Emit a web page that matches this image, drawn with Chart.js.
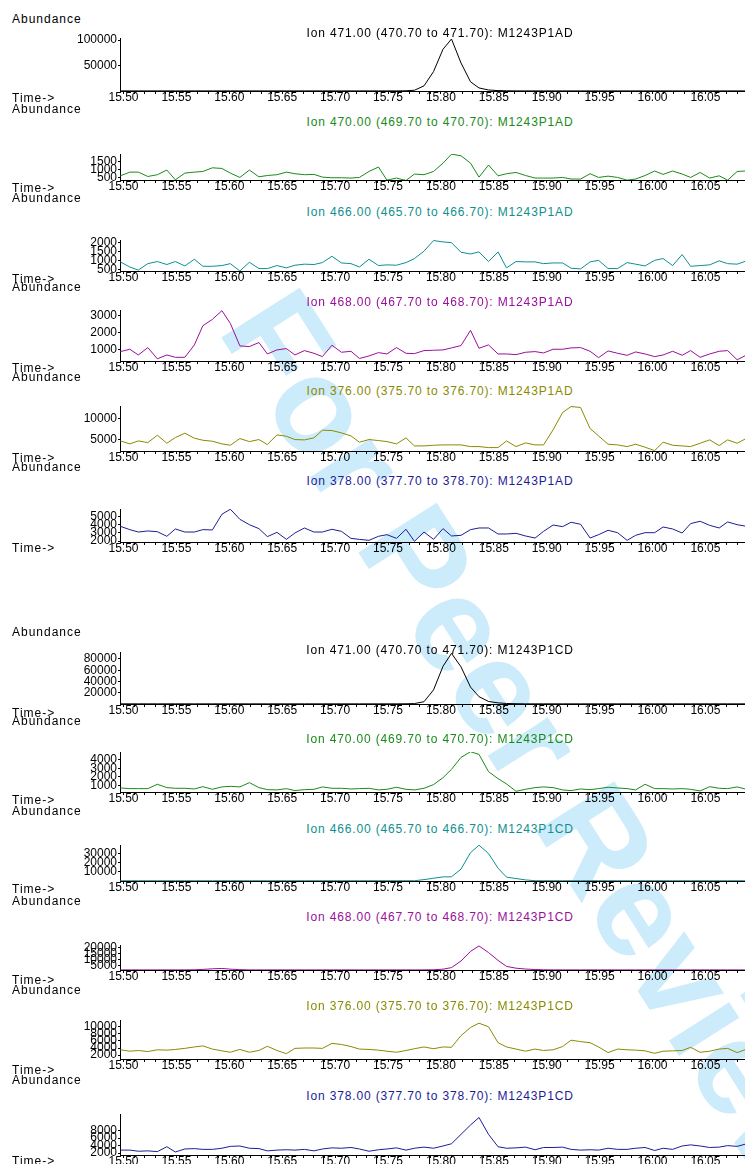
<!DOCTYPE html>
<html>
<head>
<meta charset="utf-8">
<script src="https://cdn.jsdelivr.net/npm/chart.js@4.4.0/dist/chart.umd.min.js"></script>
<style>
html, body { margin: 0; padding: 0; background: #fff; overflow: hidden; }
#page { position: relative; width: 745px; height: 1164px; overflow: hidden; font-family: "Liberation Sans", Arial, sans-serif; }
.side { position: absolute; left: 12px; font-size: 12px; letter-spacing: 1px; line-height: 14px; color: #000; white-space: nowrap; z-index: 2; }
.title { position: absolute; left: 440px; transform: translateX(-50%); font-size: 12px; letter-spacing: 0.85px; line-height: 14px; white-space: nowrap; z-index: 2; }
.wm { position: absolute; left: 538px; top: 748px; transform: translate(-50%, -50%) rotate(57.5deg); font: bold 135px "Liberation Sans", Arial, sans-serif; color: #cdecfb; white-space: nowrap; z-index: 0; }
canvas { position: absolute; left: 0; z-index: 1; }
</style>
</head>
<body>
<div id="page"><div class="wm">For Peer Review</div></div>
<script>
// scan times (min), shared by every ion trace
const times = [
    15.497, 15.506, 15.514, 15.523, 15.532, 15.541, 15.549, 15.558, 15.567, 15.575,
    15.584, 15.593, 15.601, 15.610, 15.619, 15.628, 15.636, 15.645, 15.654, 15.662,
    15.671, 15.680, 15.688, 15.697, 15.706, 15.715, 15.723, 15.732, 15.741, 15.749,
    15.758, 15.767, 15.775, 15.784, 15.793, 15.802, 15.810, 15.819, 15.828, 15.836,
    15.845, 15.854, 15.862, 15.871, 15.880, 15.889, 15.897, 15.906, 15.915, 15.923,
    15.932, 15.941, 15.949, 15.958, 15.967, 15.976, 15.984, 15.993, 16.002, 16.010,
    16.019, 16.028, 16.036, 16.045, 16.054, 16.063, 16.071, 16.080, 16.089
];

const xTickLabels = ['15.50', '15.55', '15.60', '15.65', '15.70', '15.75', '15.80', '15.85', '15.90', '15.95', '16.00', '16.05'];

// sample M1243P1AD
const ion471AD = [
    200, 200, 200, 200, 200, 200, 200, 200, 200, 200,
    200, 200, 200, 200, 200, 200, 200, 200, 200, 200,
    200, 200, 200, 200, 200, 200, 200, 200, 200, 200,
    200, 400, 1500, 10000, 38000, 82000, 102000, 55000, 18000, 6000,
    2000, 800, 400, 200, 200, 200, 200, 200, 200, 200,
    200, 200, 200, 200, 200, 200, 200, 200, 200, 200,
    200, 200, 200, 200, 200, 200, 200, 200, 200
];
const ion470AD = [
    600, 830, 830, 560, 670, 960, 350, 770, 830, 870,
    1100, 1060, 770, 500, 960, 540, 620, 670, 830, 730,
    670, 690, 520, 480, 480, 460, 500, 870, 1150, 330,
    460, 310, 710, 670, 870, 1390, 1950, 1850, 1390, 520,
    1270, 600, 730, 810, 620, 460, 460, 460, 500, 400,
    400, 730, 500, 580, 500, 330, 400, 620, 900, 690,
    900, 710, 500, 810, 460, 600, 330, 870, 910
];
const ion466AD = [
    920, 630, 450, 820, 940, 770, 940, 690, 1070, 670,
    670, 710, 820, 400, 900, 540, 540, 710, 580, 730,
    790, 770, 880, 1240, 860, 820, 630, 1070, 710, 750,
    730, 880, 1110, 1530, 2140, 2060, 2020, 1470, 1370, 1490,
    940, 1490, 580, 940, 920, 920, 820, 860, 860, 560,
    520, 920, 1010, 540, 540, 880, 790, 690, 1010, 1110,
    710, 1340, 670, 710, 750, 980, 820, 790, 980
];
const ion468AD = [
    860, 1000, 660, 1100, 430, 660, 520, 520, 1260, 2400,
    2780, 3300, 2540, 1200, 1160, 1400, 720, 960, 1040, 660,
    920, 760, 560, 1240, 820, 880, 450, 600, 800, 720,
    1100, 760, 740, 920, 940, 960, 1080, 1220, 2130, 1060,
    1260, 720, 720, 680, 820, 860, 780, 1000, 1000, 1080,
    1100, 880, 500, 900, 760, 640, 840, 720, 560, 660,
    880, 640, 920, 520, 720, 880, 920, 370, 660
];
const ion376AD = [
    4600, 3900, 4600, 4200, 5950, 4050, 5400, 6430, 5240, 4760,
    4520, 3900, 3570, 5160, 4440, 4920, 3730, 6030, 5710, 4920,
    4840, 5320, 7140, 7060, 6510, 5790, 4290, 4920, 4680, 4440,
    3890, 5320, 3410, 3410, 3570, 3650, 3650, 3650, 3250, 3250,
    3010, 3010, 4600, 3250, 4130, 3650, 3650, 7220, 11350, 12780,
    12540, 7540, 5790, 3810, 3650, 3250, 3810, 3100, 2300, 4290,
    3570, 3410, 3250, 4050, 4840, 3490, 4840, 4050, 5240
];
const ion378AD = [
    3780, 3380, 3090, 3220, 3130, 2570, 3460, 3090, 3090, 3380,
    3340, 5240, 5850, 4630, 3980, 3500, 2530, 3050, 2200, 2970,
    3580, 3090, 3090, 3420, 3170, 2320, 2200, 2080, 2570, 2770,
    2320, 3420, 1960, 3090, 2200, 3500, 2610, 2690, 3380, 3580,
    3580, 2850, 2850, 2930, 2610, 2360, 3170, 3940, 3740, 4270,
    4030, 2360, 2770, 3300, 3010, 2080, 2690, 3010, 3010, 3700,
    3460, 2970, 4110, 4390, 3900, 3580, 4310, 3980, 3780
];

// sample M1243P1CD
const ion471CD = [
    300, 300, 300, 300, 300, 300, 300, 300, 300, 300,
    300, 300, 300, 300, 300, 300, 300, 300, 300, 300,
    300, 300, 300, 300, 300, 300, 300, 300, 300, 300,
    300, 400, 800, 4000, 25000, 67000, 90000, 66000, 30000, 13000,
    4500, 2000, 900, 500, 300, 300, 300, 300, 300, 300,
    300, 300, 300, 300, 300, 300, 300, 300, 300, 300,
    300, 300, 300, 300, 300, 300, 300, 300, 300
];
const ion470CD = [
    690, 610, 610, 610, 1120, 730, 650, 650, 570, 840,
    530, 810, 880, 810, 1310, 730, 490, 460, 610, 380,
    490, 530, 810, 650, 650, 570, 610, 650, 460, 530,
    770, 530, 460, 650, 1080, 1890, 2870, 4270, 4930, 4620,
    2600, 1780, 1160, 300, 530, 730, 810, 730, 460, 380,
    570, 490, 610, 770, 690, 610, 460, 1120, 610, 610,
    570, 610, 530, 340, 840, 650, 610, 810, 530
];
const ion466CD = [
    300, 300, 300, 300, 300, 300, 300, 300, 300, 300,
    300, 300, 300, 300, 300, 300, 300, 300, 300, 300,
    300, 300, 300, 300, 300, 300, 300, 300, 300, 300,
    300, 300, 300, 1500, 3000, 4500, 4600, 13000, 31000, 39000,
    30000, 14000, 4200, 2700, 1200, 300, 300, 300, 300, 300,
    300, 300, 300, 300, 300, 300, 300, 300, 300, 300,
    300, 300, 300, 300, 300, 300, 300, 300, 300
];
const ion468CD = [
    1600, 1600, 1600, 1600, 1600, 1600, 1600, 1600, 1700, 2000,
    2500, 2800, 2200, 1800, 1600, 1600, 1600, 1600, 1600, 1600,
    1600, 1600, 1600, 1600, 1600, 1600, 1600, 1600, 1600, 1600,
    1600, 1600, 1600, 1600, 1700, 2200, 3500, 9000, 17000, 21500,
    16000, 9500, 4500, 3000, 2300, 1900, 1700, 1600, 1600, 1600,
    1600, 1600, 1600, 1600, 1600, 1600, 1600, 1600, 1600, 1600,
    1600, 1600, 1600, 1600, 1600, 1600, 1600, 1600, 1600
];
const ion376CD = [
    3500, 3100, 3300, 3000, 3500, 3400, 3600, 3900, 4300, 4600,
    3700, 3200, 2800, 3600, 2800, 3300, 4500, 3300, 2400, 3900,
    4000, 4000, 3900, 5300, 5000, 4400, 3700, 3600, 3400, 3100,
    2800, 3300, 3800, 4300, 3800, 4300, 4200, 7500, 9800, 11000,
    10000, 5500, 4300, 3700, 3100, 3700, 3300, 3500, 4400, 6200,
    5800, 5500, 4300, 2700, 3700, 3500, 3400, 3200, 2500, 3100,
    3200, 3300, 4200, 2800, 3100, 3700, 3900, 2700, 3700
];
const ion378CD = [
    2800, 2800, 2500, 2600, 2400, 3700, 2300, 3100, 3200, 3000,
    3000, 3300, 3800, 3900, 3300, 3200, 2600, 2800, 2900, 2800,
    3000, 2600, 3100, 3400, 3300, 3500, 3100, 2500, 2900, 3100,
    3400, 2800, 3300, 3600, 3300, 3900, 4500, 7000, 9500, 11500,
    7000, 3700, 3300, 3400, 3600, 2900, 3500, 3500, 3600, 3000,
    2800, 2900, 2800, 3300, 3000, 3000, 3300, 3500, 2700, 3300,
    3000, 3900, 4200, 3900, 3500, 3600, 4000, 3800, 4500
];

// y tick values per trace
const yTicks471AD = [50000, 100000];
const yTicks470AD = [500, 1000, 1500];
const yTicks466AD = [500, 1000, 1500, 2000];
const yTicks468AD = [1000, 2000, 3000];
const yTicks376AD = [5000, 10000];
const yTicks378AD = [2000, 3000, 4000, 5000];
const yTicks471CD = [20000, 40000, 60000, 80000];
const yTicks470CD = [1000, 2000, 3000, 4000];
const yTicks466CD = [10000, 20000, 30000];
const yTicks468CD = [5000, 10000, 15000, 20000];
const yTicks376CD = [2000, 4000, 6000, 8000, 10000];
const yTicks378CD = [2000, 4000, 6000, 8000];

const FONT = '"Liberation Sans", Arial, sans-serif';

const panels = [
    { title: 'Ion 471.00 (470.70 to 471.70): M1243P1AD', color: '#000000', values: ion471AD, yTicks: yTicks471AD, yMin: 0, yMax: 104000, top: 38, bottom: 91, abundanceY: 19, titleY: 33, timeY: 98 },
    { title: 'Ion 470.00 (469.70 to 470.70): M1243P1AD', color: '#1a8a1a', values: ion470AD, yTicks: yTicks470AD, yMin: 340, yMax: 1960, top: 154, bottom: 180, abundanceY: 109, titleY: 122, timeY: 188 },
    { title: 'Ion 466.00 (465.70 to 466.70): M1243P1AD', color: '#0e8f8f', values: ion466AD, yTicks: yTicks466AD, yMin: 400, yMax: 2170, top: 240, bottom: 271, abundanceY: 198, titleY: 212, timeY: 279 },
    { title: 'Ion 468.00 (467.70 to 468.70): M1243P1AD', color: '#990f99', values: ion468AD, yTicks: yTicks468AD, yMin: 300, yMax: 3340, top: 310, bottom: 361, abundanceY: 287, titleY: 302, timeY: 368 },
    { title: 'Ion 376.00 (375.70 to 376.70): M1243P1AD', color: '#8a8a00', values: ion376AD, yTicks: yTicks376AD, yMin: 2200, yMax: 12900, top: 406, bottom: 451, abundanceY: 377, titleY: 391, timeY: 458 },
    { title: 'Ion 378.00 (377.70 to 378.70): M1243P1AD', color: '#1c1c96', values: ion378AD, yTicks: yTicks378AD, yMin: 1880, yMax: 5880, top: 509, bottom: 542, abundanceY: 467, titleY: 481, timeY: 548 },
    { title: 'Ion 471.00 (470.70 to 471.70): M1243P1CD', color: '#000000', values: ion471CD, yTicks: yTicks471CD, yMin: 0, yMax: 92400, top: 652, bottom: 704, abundanceY: 632, titleY: 650, timeY: 713 },
    { title: 'Ion 470.00 (469.70 to 470.70): M1243P1CD', color: '#1a8a1a', values: ion470CD, yTicks: yTicks470CD, yMin: 215, yMax: 4900, top: 752, bottom: 792, abundanceY: 721, titleY: 739, timeY: 800 },
    { title: 'Ion 466.00 (465.70 to 466.70): M1243P1CD', color: '#0e8f8f', values: ion466CD, yTicks: yTicks466CD, yMin: 0, yMax: 39300, top: 845, bottom: 881, abundanceY: 811, titleY: 829, timeY: 889 },
    { title: 'Ion 468.00 (467.70 to 468.70): M1243P1CD', color: '#990f99', values: ion468CD, yTicks: yTicks468CD, yMin: 1500, yMax: 22300, top: 945, bottom: 970, abundanceY: 901, titleY: 917, timeY: 980 },
    { title: 'Ion 376.00 (375.70 to 376.70): M1243P1CD', color: '#8a8a00', values: ion376CD, yTicks: yTicks376CD, yMin: 900, yMax: 11900, top: 1020, bottom: 1059, abundanceY: 990, titleY: 1006, timeY: 1070 },
    { title: 'Ion 378.00 (377.70 to 378.70): M1243P1CD', color: '#1c1c96', values: ion378CD, yTicks: yTicks378CD, yMin: 1500, yMax: 12430, top: 1114, bottom: 1155, abundanceY: 1080, titleY: 1096, timeY: 1161 }
];

// one tick mark every 0.01 min, labelled every 0.05
const minorTicks = [];
for (let k = 1550; k <= 1608; k++) {
    minorTicks.push(k / 100);
}

function xLabel(value) {
    const label = xTickLabels.find(l => Math.abs(parseFloat(l) - value) < 1e-6);
    return label || '';
}

const page = document.getElementById('page');

function addText(cls, text, y, color) {
    const el = document.createElement('div');
    el.className = cls;
    el.textContent = text;
    el.style.top = (y - 7) + 'px';
    if (color) {
        el.style.color = color;
    }
    page.appendChild(el);
}

panels.forEach(p => {
    addText('side', 'Abundance', p.abundanceY);
    addText('side', 'Time->', p.timeY);
    addText('title', p.title, p.titleY, p.color);

    const padTop = 8;
    const axisH = 16;
    const canvas = document.createElement('canvas');
    canvas.width = 745;
    canvas.height = (p.bottom - p.top) + padTop + axisH;
    canvas.style.top = (p.top - padTop) + 'px';
    page.appendChild(canvas);

    new Chart(canvas.getContext('2d'), {
        type: 'line',
        data: {
            datasets: [{
                data: times.map((t, i) => ({ x: t, y: p.values[i] })),
                borderColor: p.color,
                borderWidth: 1,
                pointRadius: 0,
                tension: 0,
                fill: false
            }]
        },
        options: {
            responsive: false,
            animation: false,
            devicePixelRatio: 1,
            layout: { padding: { top: padTop, left: 0, right: 0, bottom: 0 } },
            plugins: {
                legend: { display: false },
                tooltip: { enabled: false }
            },
            scales: {
                x: {
                    type: 'linear',
                    min: 15.4967,
                    max: 16.0874,
                    afterBuildTicks: scale => { scale.ticks = minorTicks.map(v => ({ value: v })); },
                    afterFit: scale => { scale.height = axisH; },
                    grid: { drawOnChartArea: false, tickLength: 3, color: '#000' },
                    border: { color: '#000' },
                    ticks: {
                        autoSkip: false,
                        maxRotation: 0,
                        minRotation: 0,
                        padding: -2,
                        color: '#000',
                        font: { family: FONT, size: 12, lineHeight: 1 },
                        callback: value => xLabel(value)
                    }
                },
                y: {
                    min: p.yMin,
                    max: p.yMax,
                    afterBuildTicks: scale => { scale.ticks = p.yTicks.map(v => ({ value: v })); },
                    afterFit: scale => { scale.width = 120; },
                    grid: { drawOnChartArea: false, tickLength: 2, color: '#000' },
                    border: { color: '#000' },
                    ticks: {
                        autoSkip: false,
                        padding: 1,
                        color: '#000',
                        font: { family: FONT, size: 12, lineHeight: 1 },
                        callback: value => String(value)
                    }
                }
            }
        }
    });
});
</script>
</body>
</html>
